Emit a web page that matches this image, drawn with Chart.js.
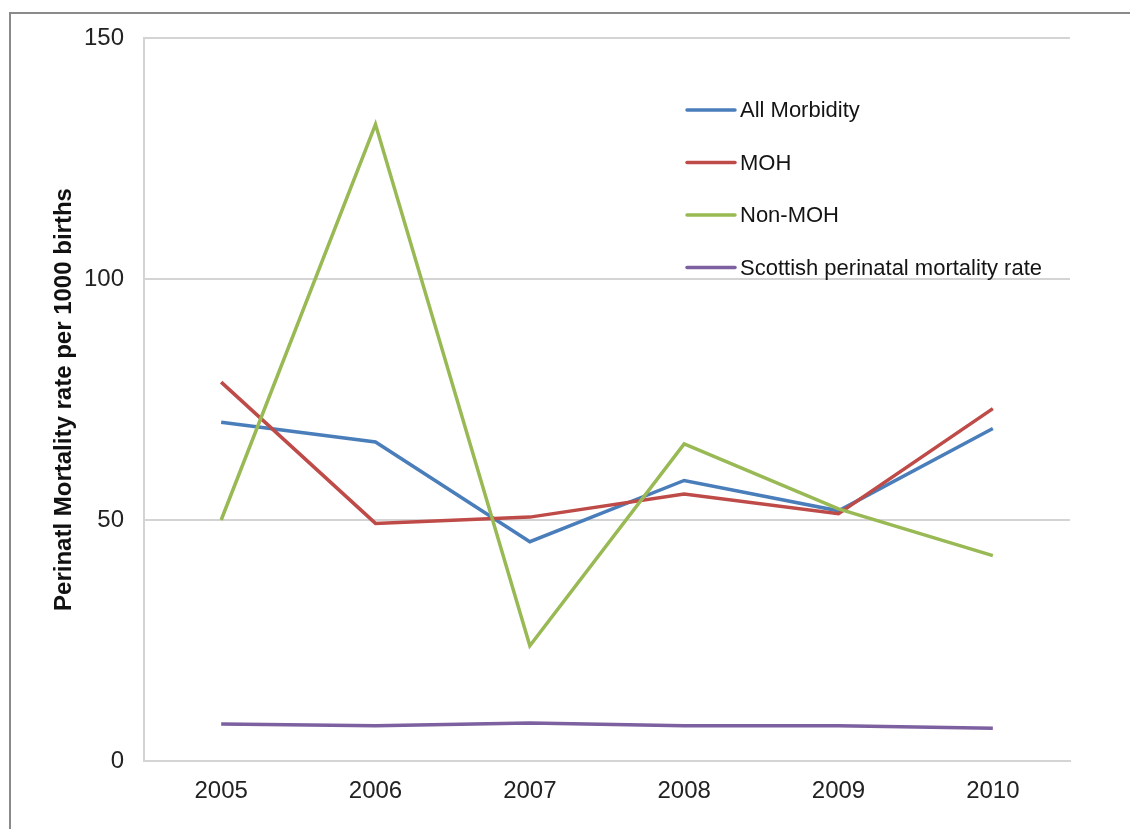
<!DOCTYPE html>
<html>
<head>
<meta charset="utf-8">
<script src="https://cdn.jsdelivr.net/npm/chart.js@4.4.1/dist/chart.umd.min.js"></script>
<style>
  html, body { margin: 0; padding: 0; background: #ffffff; overflow: hidden; }
  #wrap { position: relative; width: 1130px; height: 829px; }
  #frame {
    position: absolute; left: 9px; top: 12px; right: -20px; bottom: -20px;
    border-top: 2px solid #8a8a8a; border-left: 2px solid #8a8a8a;
    pointer-events: none;
  }
</style>
</head>
<body>
<div id="wrap">
  <canvas id="chart" width="1130" height="829"></canvas>
  <div id="frame"></div>
</div>
<script>
// Perinatal mortality per 1000 births, by year
const years = ['2005', '2006', '2007', '2008', '2009', '2010'];
const allMorbidity = [70.3, 66.2, 45.5, 58.2, 51.9, 69.0];
const moh = [78.6, 49.3, 50.6, 55.4, 51.3, 73.1];
const nonMoh = [50.0, 132.1, 23.9, 65.8, 52.3, 42.6];
const scottishRate = [7.7, 7.3, 7.9, 7.3, 7.3, 6.8];
const yTicks = [0, 50, 100, 150];

const seriesNames = ['All Morbidity', 'MOH', 'Non-MOH', 'Scottish perinatal mortality rate'];
const seriesColors = ['#4a7ebb', '#be4b48', '#98b954', '#7d60a0'];
const seriesValues = [allMorbidity, moh, nonMoh, scottishRate];

const FONT = "'Liberation Sans', Arial, sans-serif";

// Legend drawn as a vertical list inside the plot area
const insideLegend = {
  id: 'insideLegend',
  afterDatasetsDraw(chart) {
    const ctx = chart.ctx;
    const area = chart.chartArea;
    const x0 = area.left + 543;
    const lineLen = 48;
    const y0 = area.top + 72;
    const step = 52.5;
    ctx.save();
    ctx.font = '22px ' + FONT;
    ctx.textBaseline = 'middle';
    ctx.textAlign = 'left';
    chart.data.datasets.forEach((ds, i) => {
      const y = y0 + i * step;
      ctx.strokeStyle = ds.borderColor;
      ctx.lineWidth = 3.5;
      ctx.lineCap = 'round';
      ctx.beginPath();
      ctx.moveTo(x0, y);
      ctx.lineTo(x0 + lineLen, y);
      ctx.stroke();
      ctx.fillStyle = '#141414';
      ctx.fillText(ds.label, x0 + lineLen + 5, y + 1);
    });
    ctx.restore();
  }
};

const datasets = seriesNames.map((name, i) => ({
  label: name,
  data: seriesValues[i],
  borderColor: seriesColors[i],
  backgroundColor: seriesColors[i],
  borderWidth: 3.5,
  pointRadius: 0,
  pointHoverRadius: 0,
  tension: 0,
  fill: false,
  order: seriesNames.length - i
}));

new Chart(document.getElementById('chart'), {
  type: 'line',
  data: { labels: years, datasets: datasets },
  plugins: [insideLegend],
  options: {
    responsive: false,
    animation: false,
    events: [],
    layout: { padding: { left: 50, right: 60, top: 38, bottom: 0 } },
    plugins: {
      legend: { display: false },
      tooltip: { enabled: false },
      title: { display: false }
    },
    scales: {
      x: {
        type: 'category',
        offset: true,
        grid: { display: false, drawTicks: false },
        border: { display: true, color: '#d4d4d4', width: 2 },
        ticks: {
          padding: 16,
          color: '#222222',
          font: { family: FONT, size: 24 }
        },
        afterFit(scale) { scale.height = 68; }
      },
      y: {
        min: 0,
        max: 150,
        afterBuildTicks(scale) { scale.ticks = yTicks.map(v => ({ value: v })); },
        grid: { color: '#d4d4d4', lineWidth: 2, drawTicks: false },
        border: { display: true, color: '#d4d4d4', width: 2 },
        ticks: {
          padding: 20,
          color: '#222222',
          font: { family: FONT, size: 24 }
        },
        title: {
          display: true,
          text: 'Perinatl Mortality rate per 1000 births',
          color: '#111111',
          padding: 0,
          font: { family: FONT, size: 24, weight: 'bold' }
        },
        afterFit(scale) { scale.width = 94; }
      }
    }
  }
});
</script>
</body>
</html>
